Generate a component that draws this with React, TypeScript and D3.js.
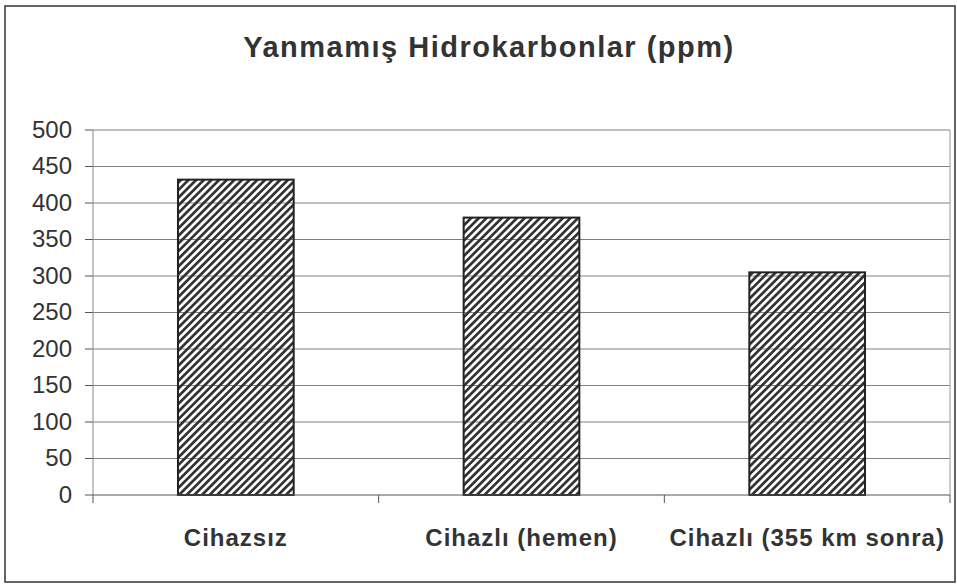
import React from 'react';
import * as d3 from 'd3';

// chart data
const categories = ['Cihazsız', 'Cihazlı (hemen)', 'Cihazlı (355 km sonra)'];
const values = [432, 380, 305];
const yTicks = [0, 50, 100, 150, 200, 250, 300, 350, 400, 450, 500];
const title = 'Yanmamış Hidrokarbonlar (ppm)';

const W = 957;
const H = 584;
const PLOT_LEFT = 93;
const PLOT_RIGHT = 950;
const PLOT_TOP = 130;
const PLOT_BOTTOM = 495;

const App = () => {
  const x = d3.scaleBand<string>()
    .domain(categories)
    .range([PLOT_LEFT, PLOT_RIGHT])
    .paddingInner(0)
    .paddingOuter(0);
  const y = d3.scaleLinear().domain([0, 500]).range([PLOT_BOTTOM, PLOT_TOP]);
  const barW = x.bandwidth() * 0.405;
  // category boundaries for the small tick marks on the x axis
  const bounds = categories.map((c) => x(c) as number).concat([PLOT_RIGHT]);

  return (
    <svg width={W} height={H} style={{ position: 'absolute', left: 0, top: 0, background: '#fff' }}
      fontFamily="'Liberation Sans', Arial, sans-serif">
      <defs>
        <pattern id="hatch" patternUnits="userSpaceOnUse" width={5.4} height={5.4}
          patternTransform="rotate(45)">
          <rect x={0} y={0} width={2.7} height={5.4} fill="#333" />
        </pattern>
      </defs>

      {/* outer frame */}
      <rect x={5} y={6} width={950} height={576} fill="none" stroke="#333" strokeWidth={1.5} />

      <text x={489} y={57} textAnchor="middle" fontSize={29} fontWeight="bold" fill="#333"
        letterSpacing={1.5}>{title}</text>

      {/* grid lines + y ticks */}
      {yTicks.map((t) => (
        <g key={t}>
          {t > 0 && (
            <line x1={PLOT_LEFT} x2={PLOT_RIGHT} y1={y(t)} y2={y(t)} stroke="#808080" strokeWidth={1} />
          )}
          <line x1={PLOT_LEFT - 8} x2={PLOT_LEFT} y1={y(t)} y2={y(t)} stroke="#555" strokeWidth={1} />
          <text x={72} y={y(t)} dy="0.33em" textAnchor="end" fontSize={24} fill="#333">{t}</text>
        </g>
      ))}

      {/* plot borders */}
      <line x1={PLOT_LEFT} x2={PLOT_LEFT} y1={PLOT_TOP} y2={PLOT_BOTTOM} stroke="#888" strokeWidth={1} />
      <line x1={PLOT_RIGHT} x2={PLOT_RIGHT} y1={PLOT_TOP} y2={PLOT_BOTTOM} stroke="#999" strokeWidth={1} />

      {/* bars */}
      {categories.map((c, i) => {
        const cx = (x(c) as number) + x.bandwidth() / 2;
        return (
          <rect key={c} x={cx - barW / 2} y={y(values[i])} width={barW} height={PLOT_BOTTOM - y(values[i])}
            fill="url(#hatch)" stroke="#222" strokeWidth={2} />
        );
      })}

      {/* x axis */}
      <line x1={PLOT_LEFT} x2={PLOT_RIGHT} y1={PLOT_BOTTOM} y2={PLOT_BOTTOM} stroke="#555" strokeWidth={1} />
      {bounds.map((b, i) => (
        <line key={i} x1={b} x2={b} y1={PLOT_BOTTOM} y2={PLOT_BOTTOM + 8} stroke="#555" strokeWidth={1} />
      ))}
      {categories.map((c) => (
        <text key={c} x={(x(c) as number) + x.bandwidth() / 2} y={546} textAnchor="middle"
          fontSize={24} fontWeight="bold" fill="#333" letterSpacing={1}>{c}</text>
      ))}
    </svg>
  );
};

export default App;
